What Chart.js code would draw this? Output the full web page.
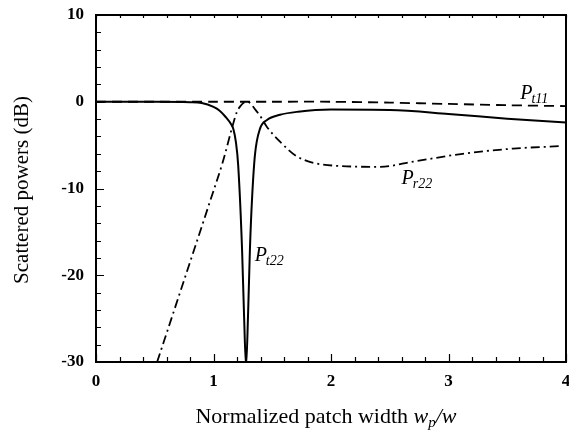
<!DOCTYPE html>
<html>
<head>
<meta charset="utf-8">
<script src="https://cdn.jsdelivr.net/npm/chart.js@4/dist/chart.umd.min.js"></script>
<style>
  html, body { margin: 0; padding: 0; background: #fff; }
  #wrap { width: 569px; height: 436px; }
</style>
</head>
<body>
<div id="wrap"><canvas id="chart" width="569" height="436"></canvas></div>
<script>
// Dữ liệu
const pt11X = [0, 0.5, 1.0, 1.5, 2.0, 2.5, 3.0, 3.5, 4.0];
const pt11Y = [0, 0, 0, 0, 0, -0.1, -0.25, -0.4, -0.5];

const pt22X = [0, 0.5, 0.8, 0.9, 1.0, 1.05, 1.1, 1.15, 1.17, 1.19, 1.21, 1.243, 1.26, 1.277,
               1.294, 1.31, 1.328, 1.353, 1.396, 1.455, 1.566, 1.72, 2.0, 2.5, 3.0, 3.5, 4.0];
const pt22Y = [0, 0, -0.05, -0.15, -0.6, -1.0, -1.7, -2.6, -3.2, -4.6, -7.3, -17, -24.6, -30.5,
               -24.6, -17, -11.2, -6.1, -3.1, -2.1, -1.5, -1.15, -0.9, -0.95, -1.4, -1.95, -2.4];

const pr22X = [0.52, 0.715, 0.97, 1.08, 1.16, 1.2, 1.235, 1.26, 1.285, 1.31, 1.35, 1.4,
               1.455, 1.566, 1.71, 1.97, 2.42, 2.7, 3.12, 3.55, 3.97];
const pr22Y = [-30, -22, -11.5, -6.9, -2.9, -1.15, -0.4, -0.08, 0, -0.15, -0.8, -1.7,
               -2.9, -4.6, -6.3, -7.3, -7.5, -6.9, -6.0, -5.4, -5.1];

const xTicks = [0, 1, 2, 3, 4];
const yTicks = [10, 0, -10, -20, -30];

function pts(xs, ys) {
    return xs.map((x, i) => ({ x: x, y: ys[i] }));
}

const SERIF = '"Liberation Serif", "DejaVu Serif", serif';

// Khung, vạch chia và nhãn
const decorPlugin = {
    id: 'decor',
    afterDraw(chart) {
        const ctx = chart.ctx;
        const a = chart.chartArea;
        const xs = chart.scales.x, ys = chart.scales.y;
        ctx.save();
        ctx.strokeStyle = '#000';
        ctx.lineWidth = 2;
        ctx.strokeRect(a.left, a.top, a.right - a.left, a.bottom - a.top);

        // vạch chia hướng vào trong
        ctx.lineWidth = 1.2;
        ctx.beginPath();
        for (let v = -30; v <= 10; v += 2) {
            const py = Math.round(ys.getPixelForValue(v)) + 0.5;
            const len = (v % 10 === 0) ? 8 : 5;
            ctx.moveTo(a.left, py);
            ctx.lineTo(a.left + len, py);
        }
        for (let i = 0; i <= 20; i++) {
            const v = i * 0.2;
            const px = Math.round(xs.getPixelForValue(v)) + 0.5;
            const len = (i % 5 === 0) ? 8 : 5;
            ctx.moveTo(px, a.bottom);
            ctx.lineTo(px, a.bottom - len);
            ctx.moveTo(px, a.top);
            ctx.lineTo(px, a.top + 3);
        }
        ctx.stroke();

        // nhãn số của trục
        ctx.fillStyle = '#000';
        ctx.font = 'bold 17px ' + SERIF;
        ctx.textAlign = 'right';
        ctx.textBaseline = 'middle';
        yTicks.forEach(v => ctx.fillText(String(v), a.left - 12, ys.getPixelForValue(v)));
        ctx.textAlign = 'center';
        ctx.textBaseline = 'top';
        xTicks.forEach(v => ctx.fillText(String(v), xs.getPixelForValue(v), a.bottom + 11));

        // nhãn đường cong
        function label(sub, x, y) {
            const px = xs.getPixelForValue(x), py = ys.getPixelForValue(y);
            ctx.textBaseline = 'alphabetic';
            ctx.textAlign = 'left';
            ctx.font = 'italic 20px ' + SERIF;
            ctx.fillText('P', px, py);
            const w = ctx.measureText('P').width;
            ctx.font = 'italic 14px ' + SERIF;
            ctx.fillText(sub, px + w - 1, py + 4);
        }
        label('t11', 3.61, 0.35);
        label('r22', 2.6, -9.5);
        label('t22', 1.35, -18.4);

        // tiêu đề trục x
        ctx.textBaseline = 'alphabetic';
        ctx.textAlign = 'left';
        const parts = [
            ['normal 22px ' + SERIF, 'Normalized patch width ', 0],
            ['italic 22px ' + SERIF, 'w', 0],
            ['italic 15px ' + SERIF, 'p', 4],
            ['italic 22px ' + SERIF, '/w', 0]
        ];
        let total = 0;
        parts.forEach(p => { ctx.font = p[0]; total += ctx.measureText(p[1]).width; });
        let cx = 326 - total / 2;
        parts.forEach(p => {
            ctx.font = p[0];
            ctx.fillText(p[1], cx, 423 + p[2]);
            cx += ctx.measureText(p[1]).width;
        });

        // tiêu đề trục y
        ctx.translate(28, 190);
        ctx.rotate(-Math.PI / 2);
        ctx.textAlign = 'center';
        ctx.font = 'normal 21px ' + SERIF;
        ctx.fillText('Scattered powers (dB)', 0, 0);
        ctx.restore();
    }
};

const ctx = document.getElementById('chart').getContext('2d');
new Chart(ctx, {
    type: 'line',
    data: {
        datasets: [
            {
                label: 'Pt11',
                data: pts(pt11X, pt11Y),
                borderColor: '#000',
                borderWidth: 1.8,
                borderDash: [10, 6],
                pointRadius: 0,
                tension: 0.3
            },
            {
                label: 'Pt22',
                data: pts(pt22X, pt22Y),
                borderColor: '#000',
                borderWidth: 2,
                pointRadius: 0,
                cubicInterpolationMode: 'monotone'
            },
            {
                label: 'Pr22',
                data: pts(pr22X, pr22Y),
                borderColor: '#000',
                borderWidth: 1.8,
                borderDash: [9, 4, 2, 4],
                pointRadius: 0,
                cubicInterpolationMode: 'monotone'
            }
        ]
    },
    options: {
        responsive: false,
        animation: false,
        events: [],
        layout: { padding: { top: 15, right: 3, left: 0, bottom: 0 } },
        plugins: { legend: { display: false }, tooltip: { enabled: false } },
        scales: {
            x: {
                type: 'linear',
                min: 0,
                max: 4,
                afterFit(scale) { scale.height = 74; },
                grid: { display: false, drawTicks: false },
                border: { display: false },
                ticks: { display: false }
            },
            y: {
                type: 'linear',
                min: -30,
                max: 10,
                afterFit(scale) { scale.width = 96; },
                grid: { display: false, drawTicks: false },
                border: { display: false },
                ticks: { display: false }
            }
        }
    },
    plugins: [decorPlugin]
});
</script>
</body>
</html>
